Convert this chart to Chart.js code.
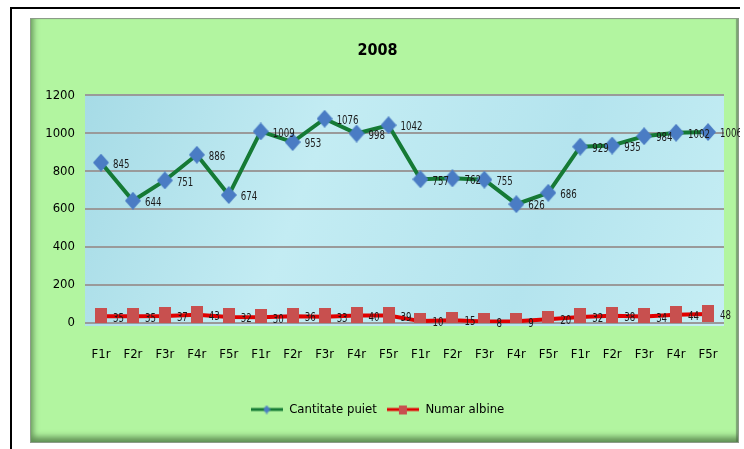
<!DOCTYPE html>
<html>
<head>
<meta charset="utf-8">
<script src="https://cdn.jsdelivr.net/npm/chart.js@4.4.1/dist/chart.umd.min.js"></script>
<style>
  html, body { margin: 0; padding: 0; background: #ffffff; width: 744px; height: 449px; overflow: hidden; }
  #topline { position: absolute; left: 10px; top: 7px; width: 730px; height: 2px; background: #000; }
  #leftline { position: absolute; left: 10px; top: 7px; width: 2px; height: 442px; background: #000; }
  #box { position: absolute; left: 30px; top: 18px; width: 709px; height: 425px; background: #b2f5a0;
         box-sizing: border-box; border: 1px solid #8c9c88;
         box-shadow: inset 4px -7px 6px -2px rgba(70,110,60,0.75), inset -2px 0 1px rgba(90,110,90,0.6); }
  #c { position: absolute; left: 0; top: 0; }
</style>
</head>
<body>
<div id="topline"></div>
<div id="leftline"></div>
<div id="box"><canvas id="c" width="709" height="425"></canvas></div>
<script>
const categories = ["F1r","F2r","F3r","F4r","F5r","F1r","F2r","F3r","F4r","F5r","F1r","F2r","F3r","F4r","F5r","F1r","F2r","F3r","F4r","F5r"];
const cantitatePuiet = [845, 644, 751, 886, 674, 1009, 953, 1076, 998, 1042, 757, 762, 755, 626, 686, 929, 935, 984, 1002, 1006];
const numarAlbine = [35, 35, 37, 43, 32, 30, 36, 33, 40, 39, 10, 15, 8, 9, 20, 32, 38, 34, 44, 48];
const yTicks = [0, 200, 400, 600, 800, 1000, 1200];
const titleText = "2008";
const seriesNames = ["Cantitate puiet", "Numar albine"];

const FONT = "'Liberation Sans Narrow', 'DejaVu Sans Condensed', 'Arial Narrow', sans-serif";

function diamondImg(w, h) {
  const c = document.createElement('canvas'); c.width = w; c.height = h;
  const x = c.getContext('2d');
  x.fillStyle = '#4a7cc4';
  x.beginPath(); x.moveTo(w/2, 0); x.lineTo(w, h/2); x.lineTo(w/2, h); x.lineTo(0, h/2); x.closePath(); x.fill();
  return c;
}
function rectImg(w, h) {
  const c = document.createElement('canvas'); c.width = w; c.height = h;
  const x = c.getContext('2d');
  x.fillStyle = '#c8504f'; x.fillRect(0, 0, w, h);
  return c;
}
function legendImg(lineColor, marker) {
  const c = document.createElement('canvas'); c.width = 32; c.height = 12;
  const x = c.getContext('2d');
  x.strokeStyle = lineColor; x.lineWidth = 3;
  x.beginPath(); x.moveTo(0, 6); x.lineTo(32, 6); x.stroke();
  x.drawImage(marker, 16 - marker.width/2, 6 - marker.height/2);
  return c;
}
const dia = diamondImg(16, 18);
const sq = rectImg(12, 17);
const legDia = diamondImg(7, 9);
const legSq = rectImg(8, 9);

const bgPlugin = {
  id: 'plotbg',
  beforeDraw(chart) {
    const {ctx, chartArea: a} = chart;
    ctx.save();
    const g = ctx.createLinearGradient(a.left, a.top, a.right, a.bottom);
    g.addColorStop(0, '#a6dbe6');
    g.addColorStop(0.35, '#c3ecf3');
    g.addColorStop(0.7, '#b4e4ee');
    g.addColorStop(1, '#c6eef4');
    ctx.fillStyle = g;
    ctx.fillRect(a.left, a.top, a.right - a.left, a.bottom - a.top + 3);
    ctx.restore();
  }
};

const labelPlugin = {
  id: 'ptlabels',
  afterDatasetsDraw(chart) {
    const ctx = chart.ctx;
    chart.data.datasets.forEach((ds, i) => {
      const meta = chart.getDatasetMeta(i);
      meta.data.forEach((pt, j) => {
        ctx.save();
        ctx.font = '12px ' + FONT;
        ctx.fillStyle = '#1a1a1a';
        ctx.textAlign = 'left';
        ctx.textBaseline = 'middle';
        ctx.translate(pt.x + 12, pt.y + 2);
        ctx.scale(0.8, 1.05);
        ctx.fillText(String(ds.data[j]), 0, 0);
        ctx.restore();
      });
    });
  }
};

new Chart(document.getElementById('c'), {
  type: 'line',
  data: {
    labels: categories,
    datasets: [
      { label: seriesNames[0], data: cantitatePuiet, borderColor: '#157a35', borderWidth: 4,
        pointStyle: dia, pointRadius: 9, tension: 0, fill: false },
      { label: seriesNames[1], data: numarAlbine, borderColor: '#e00000', borderWidth: 4,
        pointStyle: sq, pointRadius: 9, tension: 0, fill: false }
    ]
  },
  options: {
    responsive: false,
    animation: false,
    events: [],
    layout: { padding: { left: 0, right: 16, top: 0, bottom: 18 } },
    plugins: {
      title: { display: true, text: titleText, color: '#000', font: { family: FONT, size: 16, weight: 'bold' },
               padding: { top: 22, bottom: 35 } },
      legend: { position: 'bottom',
        labels: { usePointStyle: true, pointStyleWidth: 32, color: '#000', padding: 10,
          font: { family: FONT, size: 13 },
          generateLabels(chart) {
            return [
              { text: seriesNames[0], pointStyle: legendImg('#157a35', legDia), fillStyle: '#157a35', strokeStyle: '#157a35', lineWidth: 0, datasetIndex: 0, fontColor: '#000' },
              { text: seriesNames[1], pointStyle: legendImg('#e00000', legSq), fillStyle: '#e00000', strokeStyle: '#e00000', lineWidth: 0, datasetIndex: 1, fontColor: '#000' }
            ];
          } } },
      tooltip: { enabled: false }
    },
    scales: {
      x: { offset: true, grid: { display: false }, border: { display: false },
           ticks: { color: '#000', font: { family: FONT, size: 13 }, padding: 16, maxRotation: 0, autoSkip: false },
           afterFit(s) { s.height = 70; } },
      y: { min: 0, max: 1200, grid: { color: '#9a9a9a', lineWidth: 2, drawTicks: false },
           border: { display: false },
           afterBuildTicks(s) { s.ticks = yTicks.map(v => ({ value: v })); },
           ticks: { color: '#000', font: { family: FONT, size: 13 }, padding: 10, callback: v => String(v) },
           afterFit(s) { s.width = 54; } }
    }
  },
  plugins: [bgPlugin, labelPlugin]
});
</script>
</body>
</html>
